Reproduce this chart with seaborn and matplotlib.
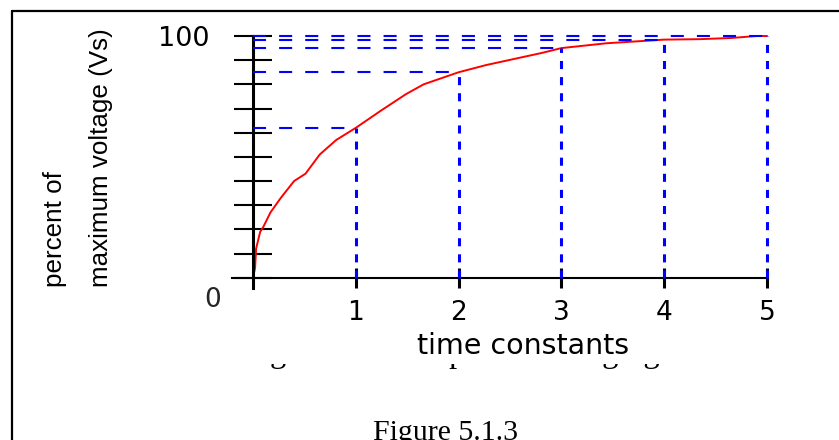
import matplotlib
matplotlib.use("Agg")
import matplotlib.pyplot as plt
import seaborn as sns
from matplotlib.lines import Line2D
from matplotlib.transforms import Bbox
from matplotlib.font_manager import FontProperties
from matplotlib import font_manager

# ---------------- data ----------------
curve_t = [0, 0.02, 0.03, 0.07, 0.10, 0.17, 0.27, 0.40, 0.51, 0.65, 0.81, 1.0,
           1.24, 1.49, 1.66, 2.0, 2.27, 2.81, 3.0, 3.44, 4.0, 4.35, 4.66, 4.9, 5.0]
curve_pct = [0, 4, 12, 19, 21, 27, 33, 40, 43, 51, 57, 62,
             69, 76, 80, 85, 88, 93, 95, 97, 98.5, 98.7, 99.2, 100, 100]
mark_t = [1, 2, 3, 4, 5]
mark_pct = [62, 85, 95, 98.5, 100]
x_ticks = [1, 2, 3, 4, 5]
x_tick_labels = ["1", "2", "3", "4", "5"]
y_ticks = [0, 10, 20, 30, 40, 50, 60, 70, 80, 90, 100]
y_tick_labels = ["", "", "", "", "", "", "", "", "", "", "100"]
origin_label = "0"
x_title = "time constants"
y_title = "percent of\nmaximum voltage (Vs)"
caption_hidden = "Voltage across a capacitor charging"
caption = "Figure 5.1.3"

# ---------------- style ----------------
sns.set_style("white")
plt.rcParams["font.family"] = ["DejaVu Sans"]
plt.rcParams["lines.scale_dashes"] = False

W, H = 839, 440
fig = plt.figure(figsize=(W / 100, H / 100), dpi=100)
fig.patch.set_facecolor("white")

def fx(px):
    return px / W

def fy(py):
    return 1 - py / H

ax = fig.add_axes([fx(253), fy(277.7), fx(767) - fx(253), fy(36) - fy(277.7)])
ax.set_zorder(3)
ax.set_facecolor("white")

sns.lineplot(x=curve_t, y=curve_pct, color="#ff0000", linewidth=1.4, ax=ax,
             estimator=None, sort=False)
for ln in ax.lines:
    ln.set_clip_on(False)

ax.vlines(mark_t, 0, mark_pct, colors="#0000ff", linestyles=(0, (5.8, 5.8)),
          linewidth=2.2, clip_on=False, zorder=4)
ax.hlines(mark_pct, 0, mark_t, colors="#0000ff", linestyles=(0, (9.4, 9.4)),
          linewidth=1.5, clip_on=False, zorder=4)

ax.set_xlim(0, 5)
ax.set_ylim(0, 100)

for s in ("top", "right"):
    ax.spines[s].set_visible(False)
ax.spines["left"].set_color("black")
ax.spines["left"].set_linewidth(2.2)
ax.spines["left"].set_bounds(-4.3, 100)
ax.spines["bottom"].set_color("black")
ax.spines["bottom"].set_linewidth(1.5)
ax.spines["bottom"].set_bounds(-0.205, 5)

ax.set_xticks(x_ticks)
ax.set_xticklabels(x_tick_labels)
ax.set_yticks(y_ticks)
ax.set_yticklabels(y_tick_labels)
ax.tick_params(axis="y", direction="inout", length=27.4, width=1.5, pad=17.3,
               labelsize=19.5, colors="black", left=True)
ax.tick_params(axis="x", direction="inout", length=15.1, width=2.2, pad=8.3,
               labelsize=19, colors="black", bottom=True)

ax.annotate(origin_label, xy=(0, 0), xycoords="data", xytext=(-40, -22),
            textcoords="offset pixels", ha="center", va="center", fontsize=19,
            annotation_clip=False)

ax.set_xlabel(x_title, fontsize=20.5, color="black")
ax.xaxis.set_label_coords(0.525, -0.2247)

# y title: condensed font if available
try:
    font_manager.findfont("Liberation Sans Narrow", fallback_to_default=False)
    yfam, ysize, yls = ["Liberation Sans Narrow"], 22.9, 1.8
except Exception:
    yfam, ysize, yls = ["Liberation Sans"], 18.7, 2.2
fig.text(fx(78), fy(287), y_title, rotation=90, ha="center", va="bottom",
         multialignment="left", linespacing=yls, family=yfam, fontsize=ysize,
         color="black", zorder=5)

# caption line that sits mostly behind the chart picture: only its
# descenders show, so the text is clipped just below its baseline
renderer = fig.canvas.get_renderer()
prop10 = FontProperties(family="Liberation Serif", size=10)

def _w(s):
    return renderer.get_text_width_height_descent(s, prop10, ismath=False)[0]

desc_idx = [i for i, c in enumerate(caption_hidden) if c in "gp"]
centers = [_w(caption_hidden[: i + 1]) - _w(caption_hidden[i]) / 2 for i in desc_idx]
scale = (651 - 278) / (centers[-1] - centers[0])
hid_size = 10 * scale
hid_x = 278 - centers[0] * scale
baseline = 362
hid = fig.text(fx(hid_x), fy(baseline), caption_hidden, family=["Liberation Serif"],
               fontsize=hid_size, ha="left", va="baseline", color="black", zorder=1)
hid.set_clip_box(Bbox([[0, 0], [W, H - (baseline + 2)]]))
hid.set_clip_on(True)

fig.text(fx(373), fy(439.5), caption, family=["Liberation Serif"], fontsize=21.5,
         ha="left", va="baseline", color="black", zorder=5)

# page box
fig.add_artist(Line2D([fx(12), 1], [fy(11), fy(11)], transform=fig.transFigure,
                      color="black", linewidth=1.6, zorder=6))
fig.add_artist(Line2D([fx(12), fx(12)], [0, fy(11)], transform=fig.transFigure,
                      color="black", linewidth=1.6, zorder=6))

fig.savefig("out.png", dpi=100, facecolor="white")
